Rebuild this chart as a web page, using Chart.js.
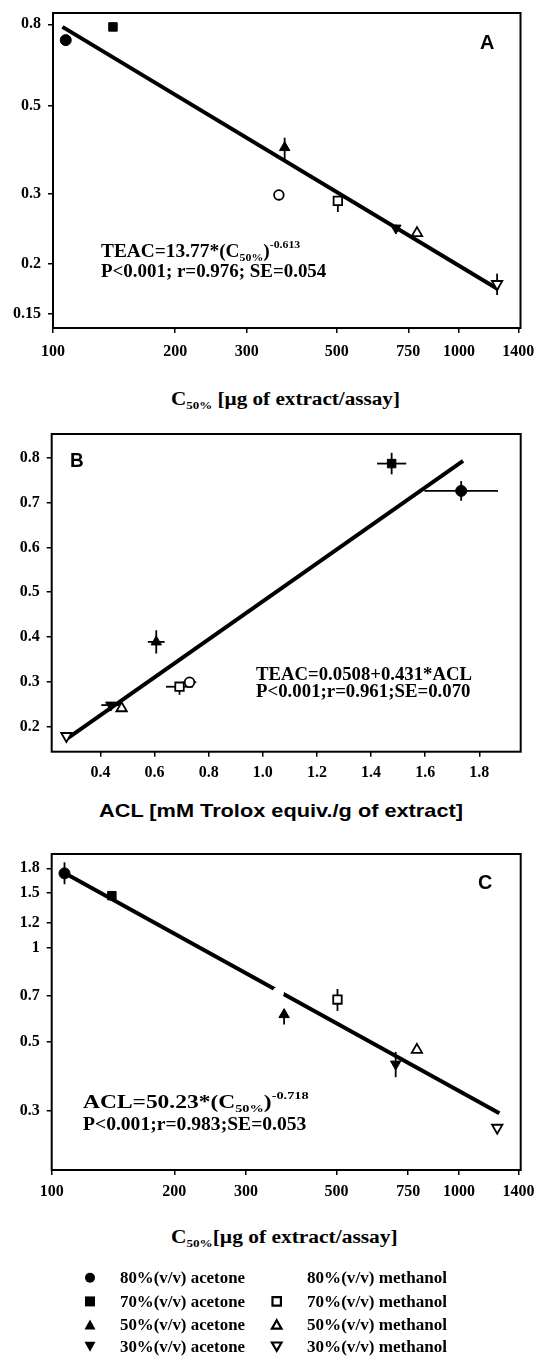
<!DOCTYPE html>
<html><head><meta charset="utf-8">
<script src="https://cdn.jsdelivr.net/npm/chart.js@4.4.1/dist/chart.umd.min.js"></script>
<style>
html,body{margin:0;padding:0;background:#fff;}
#wrap{position:relative;width:536px;height:1356px;overflow:hidden;background:#fff;}
canvas.panel{position:absolute;left:0;}
.t{position:absolute;white-space:nowrap;font-weight:bold;color:#000;line-height:1;transform-origin:0 0;}
.serif{font-family:"Liberation Serif","Times New Roman",serif;}
.sans{font-family:"Liberation Sans",Arial,sans-serif;}
.sub{position:relative;font-size:11px;top:4px;}
.sup{position:relative;font-size:11px;top:-9px;}
</style></head>
<body><div id="wrap">
<canvas class="panel" id="cA" width="536" height="370" style="top:0px"></canvas>
<canvas class="panel" id="cB" width="536" height="370" style="top:420px"></canvas>
<canvas class="panel" id="cC" width="536" height="370" style="top:840px"></canvas>
<canvas id="leg" width="536" height="100" style="position:absolute;left:0;top:1256px"></canvas>

<div class="t sans" data-b="48.3" data-fs="21" data-w="14.4" style="left:479.6px">A</div>
<div class="t serif" data-b="256.7" data-fs="18" data-w="199.3" style="left:100.7px">TEAC=13.77*(C<span class="sub">50%</span>)<span class="sup">-0.613</span></div>
<div class="t serif" data-b="276.7" data-fs="18" data-w="225.3" style="left:100.7px">P&lt;0.001; r=0.976; SE=0.054</div>
<div class="t serif" data-b="405" data-fs="18" data-w="229" style="left:170.5px">C<span class="sub">50%</span> [µg of extract/assay]</div>

<div class="t sans" data-b="466.7" data-fs="20" data-w="13.7" style="left:69.7px">B</div>
<div class="t serif" data-b="680" data-fs="18" data-w="216" style="left:256px">TEAC=0.0508+0.431*ACL</div>
<div class="t serif" data-b="697" data-fs="18" data-w="214.5" style="left:256px">P&lt;0.001;r=0.961;SE=0.070</div>
<div class="t sans" data-b="817" data-fs="19" data-w="364" style="left:98.8px">ACL [mM Trolox equiv./g of extract]</div>

<div class="t sans" data-b="889" data-fs="20" data-w="14.3" style="left:478.3px">C</div>
<div class="t serif" data-b="1108.3" data-fs="18" data-w="225.7" style="left:83.3px">ACL=50.23*(C<span class="sub">50%</span>)<span class="sup">-0.718</span></div>
<div class="t serif" data-b="1130" data-fs="18" data-w="223.4" style="left:83.3px">P&lt;0.001;r=0.983;SE=0.053</div>
<div class="t serif" data-b="1243" data-fs="18" data-w="226.7" style="left:170.5px">C<span class="sub">50%</span>[µg of extract/assay]</div>
<div id="legtext"></div>
</div>
<script>
// ---------------- DATA ----------------
const solvents = ['80%(v/v) acetone','70%(v/v) acetone','50%(v/v) acetone','30%(v/v) acetone',
                  '80%(v/v) methanol','70%(v/v) methanol','50%(v/v) methanol','30%(v/v) methanol'];
// Panel A: TEAC vs C50%
const c50A  = [107.5, 140.5, 372, 699, 360, 503, 788, 1241];
const teacA = [0.730, 0.788, 0.392, 0.246, 0.298, 0.288, 0.239, 0.178];
const teacA_errMinus = [0, 0, 0.026, 0.005, 0.009, 0.018, 0, 0.011];
const teacA_errPlus  = [0, 0, 0.023, 0.005, 0.009, 0, 0, 0.011];
const fitA_x = [105.5, 1251];
const fitA_y = [0.788, 0.1724];
// Panel B: TEAC vs ACL
const aclB  = [1.733, 1.476, 0.606, 0.438, 0.729, 0.692, 0.478, 0.274];
const teacB = [0.726, 0.787, 0.389, 0.248, 0.299, 0.289, 0.241, 0.179];
const aclB_err = [0.136, 0.054, 0.031, 0.035, 0.025, 0.05, 0, 0];
const teacB_errMinus = [0.022, 0.024, 0.026, 0, 0, 0.018, 0, 0];
const teacB_errPlus  = [0.022, 0.024, 0.026, 0, 0, 0, 0, 0];
const fitB_x = [0.274, 1.74];
const fitB_y = [0.172, 0.793];
// Panel C: ACL vs C50%
const c50C  = [107.5, 140.5, 372, 699, 360, 503, 788, 1241];
const aclC  = [1.734, 1.47, 0.611, 0.424, 0.72, 0.683, 0.471, 0.265];
const aclC_errMinus = [0.134, 0, 0.043, 0.039, 0, 0.055, 0, 0];
const aclC_errPlus  = [0.147, 0, 0, 0.04, 0, 0.055, 0, 0];
const fitC_x = [107, 1256];
const fitC_y = [1.745, 0.295];
// Tick labels
const xTicksLog = [100, 200, 300, 500, 750, 1000, 1400];
const yTicksA = [0.15, 0.2, 0.3, 0.5, 0.8];
const xTicksB = [0.4, 0.6, 0.8, 1.0, 1.2, 1.4, 1.6, 1.8];
const yTicksB = [0.2, 0.3, 0.4, 0.5, 0.6, 0.7, 0.8];
const yTicksC = [0.3, 0.5, 0.7, 1, 1.2, 1.5, 1.8];

// ---------------- STYLE ----------------
const markers = [
  {style:'circle',   rot:0,   r:5.5, filled:true},
  {style:'rect',     rot:0,   r:6,   filled:true},
  {style:'triangle', rot:0,   r:6,   filled:true},
  {style:'triangle', rot:180, r:6,   filled:true},
  {style:'circle',   rot:0,   r:4.8, filled:false},
  {style:'rect',     rot:0,   r:6,   filled:false},
  {style:'triangle', rot:0,   r:6,   filled:false},
  {style:'triangle', rot:180, r:6,   filled:false}
];
const tickFont = {family:'Liberation Serif', size:16, weight:'bold'};

function axis(type, min, max, vals, fmt, isX, size, pad){
  return {
    type, min, max,
    afterBuildTicks: s => { s.ticks = vals.map(v => ({value:v})); },
    afterFit: s => {
      if (isX) s.height = size; else s.width = size;
      s.paddingLeft = s.paddingRight = s.paddingTop = s.paddingBottom = 0;
    },
    grid:{display:true, drawOnChartArea:false, drawTicks:true, tickLength:5, color:'#000', lineWidth:1.5},
    border:{display:false},
    ticks:{color:'#000', font:tickFont, padding:pad, maxRotation:0, minRotation:0, autoSkip:false,
           callback: v => fmt(v)}
  };
}

function framePlugin(xs, ys, xErr, yMinus, yPlus){
  return {
    id:'frameErr',
    beforeDatasetsDraw(chart){
      const {ctx, scales:{x, y}} = chart;
      ctx.save(); ctx.strokeStyle='#000'; ctx.lineWidth=1.8;
      for (let i=0;i<xs.length;i++){
        const px = x.getPixelForValue(xs[i]), py = y.getPixelForValue(ys[i]);
        if ((yMinus && yMinus[i]) || (yPlus && yPlus[i])){
          ctx.beginPath();
          ctx.moveTo(px, y.getPixelForValue(ys[i] + (yPlus ? yPlus[i] : 0)));
          ctx.lineTo(px, y.getPixelForValue(ys[i] - (yMinus ? yMinus[i] : 0)));
          ctx.stroke();
        }
        if (xErr && xErr[i]){
          ctx.beginPath();
          ctx.moveTo(x.getPixelForValue(xs[i]-xErr[i]), py);
          ctx.lineTo(x.getPixelForValue(xs[i]+xErr[i]), py);
          ctx.stroke();
        }
      }
      ctx.restore();
    },
    afterDraw(chart){
      const {ctx, chartArea:a} = chart;
      ctx.save(); ctx.strokeStyle='#000'; ctx.lineWidth=2;
      ctx.strokeRect(a.left, a.top, a.right-a.left, a.bottom-a.top);
      ctx.restore();
    }
  };
}

function makePanel(id, xs, ys, fitX, fitY, scales, pad, errs, hidden){
  const ds = solvents.map((name,i)=>({
    label:name, data:[{x:xs[i], y:ys[i]}],
    pointStyle:markers[i].style, pointRotation:markers[i].rot, pointRadius:markers[i].r,
    pointBackgroundColor: markers[i].filled ? '#000' : '#fff',
    pointBorderColor: (hidden && hidden[i]) ? '#fff' : '#000',
    pointBorderWidth: markers[i].filled ? 1 : 1.8,
    order:0
  }));
  ds.push({label:'fit', data:fitX.map((v,i)=>({x:v, y:fitY[i]})), showLine:true,
           borderColor:'#000', borderWidth:4, pointRadius:0, order:1, borderCapStyle:'butt'});
  return new Chart(document.getElementById(id), {
    type:'scatter',
    data:{datasets:ds},
    options:{
      responsive:false, animation:false, events:[],
      layout:{autoPadding:false, padding:pad},
      plugins:{legend:{display:false}, tooltip:{enabled:false}},
      scales
    },
    plugins:[framePlugin(xs, ys, errs.x, errs.minus, errs.plus)]
  });
}

const fmtPlain = v => String(v);
const fmt1 = v => Number(v).toFixed(1);

makePanel('cA', c50A, teacA, fitA_x, fitA_y, {
  x: axis('logarithmic', 100, 1417, xTicksLog, fmtPlain, true, 42, 9),
  y: axis('logarithmic', 0.138, 0.854, yTicksA, fmtPlain, false, 53, 7)
}, {left:0, right:15.5, top:13, bottom:0}, {x:null, minus:teacA_errMinus, plus:teacA_errPlus});

makePanel('cB', aclB, teacB, fitB_x, fitB_y, {
  x: axis('linear', 0.2196, 1.953, xTicksB, fmt1, true, 38.3, 7),
  y: axis('linear', 0.144, 0.853, yTicksB, fmt1, false, 51.7, 7)
}, {left:0, right:15.3, top:14, bottom:0}, {x:aclB_err, minus:teacB_errMinus, plus:teacB_errPlus});

makePanel('cC', c50C, aclC, fitC_x, fitC_y, {
  x: axis('logarithmic', 100, 1417, xTicksLog, fmtPlain, true, 40, 7),
  y: axis('logarithmic', 0.194, 2.0, yTicksC, fmtPlain, false, 51.7, 7)
}, {left:0, right:15.3, top:14, bottom:0}, {x:null, minus:aclC_errMinus, plus:aclC_errPlus}, [0,0,0,0,1,0,0,0]);

// ---------------- LEGEND ----------------
(function(){
  const cv = document.getElementById('leg'), ctx = cv.getContext('2d');
  const top = 1256, rowBase = [1283.3, 1307, 1330, 1352.3];
  const colSym = [90, 276.7], colText = [120, 306.7], colW = [125, 140];
  const holder = document.getElementById('legtext');
  solvents.forEach((name, i) => {
    const col = i < 4 ? 0 : 1, row = i % 4, m = markers[i];
    const cx = colSym[col], cy = rowBase[row] - 5.6 - top;
    if (!(col === 1 && row === 0)) {
      ctx.save(); ctx.fillStyle = m.filled ? '#000' : '#fff'; ctx.strokeStyle = '#000'; ctx.lineWidth = 2.2;
      ctx.beginPath();
      if (m.style === 'circle') ctx.arc(cx, cy, 5, 0, Math.PI*2);
      else if (m.style === 'rect') { const h = m.filled ? 5 : 4.2; ctx.rect(cx-h, cy-h, 2*h, 2*h); }
      else { const s = m.rot ? -1 : 1, hw = m.filled ? 5.5 : 4.8, hh = m.filled ? 5 : 4.2;
        ctx.moveTo(cx, cy - s*hh); ctx.lineTo(cx + hw, cy + s*hh); ctx.lineTo(cx - hw, cy + s*hh); ctx.closePath(); }
      ctx.fill(); if (!m.filled) ctx.stroke();
      ctx.restore();
    }
    const d = document.createElement('div');
    d.className = 't serif'; d.textContent = name;
    d.dataset.b = rowBase[row]; d.dataset.fs = 16; d.dataset.w = colW[col];
    d.style.left = colText[col] + 'px';
    holder.appendChild(d);
  });
})();

// ---------------- TEXT FIT ----------------
document.querySelectorAll('.t').forEach(el => {
  const fs = +el.dataset.fs, b = +el.dataset.b;
  el.style.fontSize = fs + 'px';
  const asc = el.classList.contains('sans') ? 0.8465 : 0.8375;
  el.style.top = (b - asc*fs) + 'px';
  const w = el.getBoundingClientRect().width;
  if (el.dataset.w && w > 0) el.style.transform = 'scaleX(' + (+el.dataset.w / w) + ')';
});
</script>
</body></html>
